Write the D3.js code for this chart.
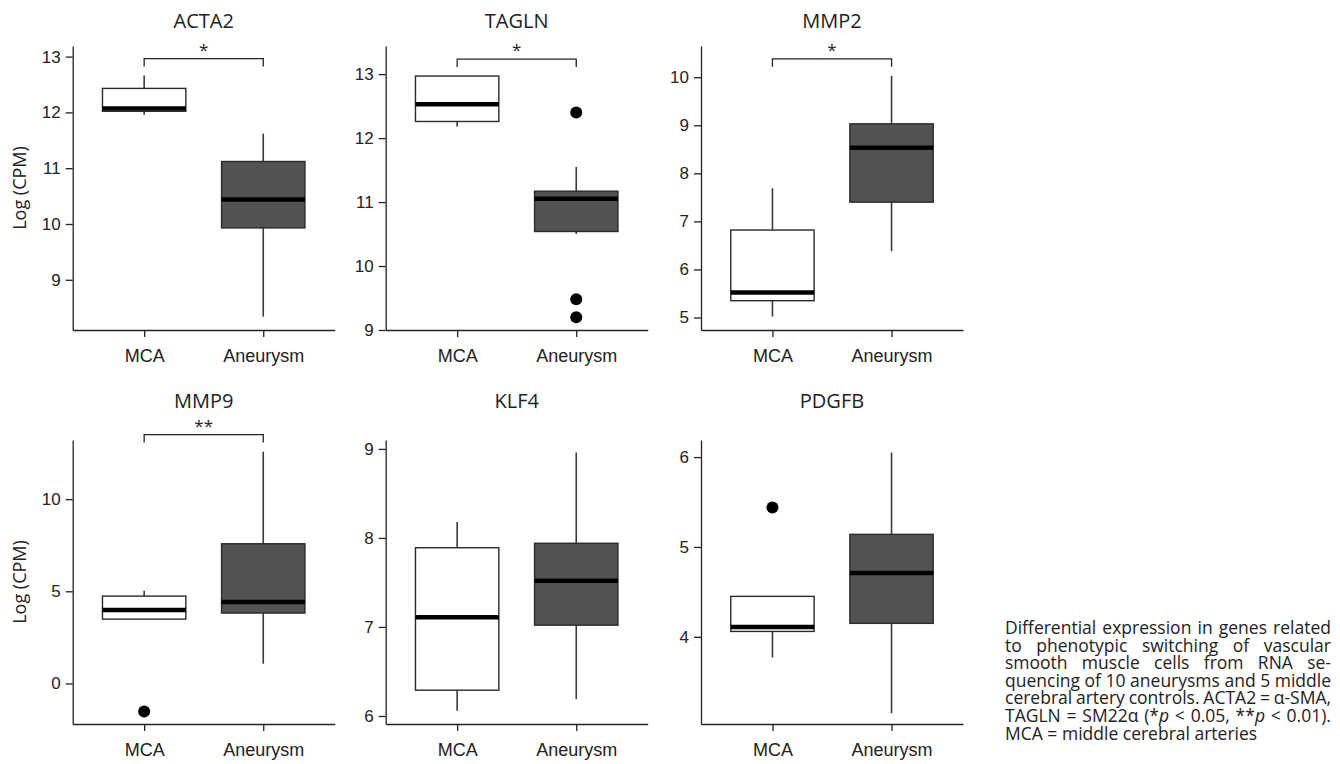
<!DOCTYPE html>
<html>
<head>
<meta charset="utf-8">
<script src="https://cdn.jsdelivr.net/npm/d3@7"></script>
<style>
  body { margin: 0; background: #fff; }
  svg { display: block; font-family: "Open Sans", sans-serif; }
  .tick text { fill: #222; }
</style>
</head>
<body>
<svg id="chart" width="1340" height="764"></svg>
<script>
// Gene panels, left to right, top to bottom
const genes = ['ACTA2', 'TAGLN', 'MMP2', 'MMP9', 'KLF4', 'PDGFB'];
const groups = ['MCA', 'Aneurysm'];

// y axis limits and ticks per panel
const yLimits = [[8.10, 13.19], [9.0, 13.44], [4.74, 10.65], [-2.2, 13.21], [5.91, 9.10], [3.03, 6.19]];
const yTicks = [[9, 10, 11, 12, 13], [9, 10, 11, 12, 13], [5, 6, 7, 8, 9, 10], [0, 5, 10], [6, 7, 8, 9], [4, 5, 6]];

// box stats: [lower whisker, q1, median, q3, upper whisker]
const mcaStats = [
  [11.96, 12.02, 12.07, 12.43, 12.66],
  [12.18, 12.26, 12.53, 12.97, 12.97],
  [5.02, 5.35, 5.52, 6.82, 7.69],
  [3.49, 3.49, 3.98, 4.74, 5.03],
  [6.06, 6.29, 7.11, 7.89, 8.18],
  [3.77, 4.06, 4.11, 4.45, 4.45]
];
const aneurysmStats = [
  [8.34, 9.93, 10.44, 11.12, 11.62],
  [10.50, 10.54, 11.05, 11.17, 11.55],
  [6.38, 7.40, 8.53, 9.03, 10.03],
  [1.07, 3.82, 4.42, 7.58, 12.58],
  [6.19, 7.02, 7.52, 7.94, 8.96],
  [3.15, 4.15, 4.71, 5.14, 6.05]
];
const mcaOutliers = [[], [], [], [-1.52], [], [5.44]];
const aneurysmOutliers = [[], [12.40, 9.48, 9.20], [], [], [], []];
const significance = ['*', '*', '*', '**', '', ''];

const captionLines = [
  [['Differential expression in genes related']],
  [['to phenotypic switching of vascular']],
  [['smooth muscle cells from RNA se-']],
  [['quencing of 10 aneurysms and 5 middle']],
  [['cerebral artery controls. ACTA2 = \u03b1-SMA,']],
  [['TAGLN = SM22\u03b1 (*'], ['p', true], [' < 0.05, **'], ['p', true], [' < 0.01).']],
  [['MCA = middle cerebral arteries']]
];

const svg = d3.select('#chart');
const colX = [72.7, 385.7, 701];
const rowTop = [46, 440];
const titleY = [28.3, 408];
const plotW = 262;
const plotH = 284;
const fills = ['#ffffff', '#535353'];
const ink = '#222';

genes.forEach((gene, i) => {
  const col = i % 3, row = Math.floor(i / 3);
  const g = svg.append('g').attr('transform', `translate(${colX[col]},${rowTop[row]})`);

  const x = d3.scalePoint().domain(groups).range([0, plotW]).padding(0.6);
  const y = d3.scaleLinear().domain(yLimits[i]).range([plotH, 0]);
  const boxW = x.step() * 0.7;

  const yAxis = g.append('g')
    .call(d3.axisLeft(y).tickValues(yTicks[i]).tickFormat(d3.format('d')).tickSize(7).tickPadding(5).tickSizeOuter(0));
  yAxis.selectAll('text').style('font-size', '17px');

  const xAxis = g.append('g').attr('transform', `translate(0,${plotH})`)
    .call(d3.axisBottom(x).tickSize(7).tickPadding(12).tickSizeOuter(0));
  xAxis.selectAll('text').style('font-size', '18px');

  [yAxis, xAxis].forEach(a => {
    a.select('.domain').attr('stroke', ink).attr('stroke-width', 1.3);
    a.selectAll('.tick line').attr('stroke', ink).attr('stroke-width', 1.3);
  });

  const boxes = [
    { group: 'MCA', stats: mcaStats[i], out: mcaOutliers[i], fill: fills[0] },
    { group: 'Aneurysm', stats: aneurysmStats[i], out: aneurysmOutliers[i], fill: fills[1] }
  ];

  boxes.forEach(b => {
    const cx = x(b.group);
    const [lo, q1, med, q3, hi] = b.stats;
    g.append('line').attr('x1', cx).attr('x2', cx).attr('y1', y(lo)).attr('y2', y(q1))
      .attr('stroke', '#3a3a3a').attr('stroke-width', 1.6);
    g.append('line').attr('x1', cx).attr('x2', cx).attr('y1', y(q3)).attr('y2', y(hi))
      .attr('stroke', '#3a3a3a').attr('stroke-width', 1.6);
    g.append('rect')
      .attr('x', cx - boxW / 2).attr('width', boxW)
      .attr('y', y(q3)).attr('height', y(q1) - y(q3))
      .attr('fill', b.fill).attr('stroke', '#2a2a2a').attr('stroke-width', 1.4);
    g.append('line').attr('x1', cx - boxW / 2).attr('x2', cx + boxW / 2)
      .attr('y1', y(med)).attr('y2', y(med))
      .attr('stroke', '#000').attr('stroke-width', 4.5);
    g.selectAll(null).data(b.out).enter().append('circle')
      .attr('cx', cx).attr('cy', d => y(d)).attr('r', 6).attr('fill', '#000');
  });

  if (significance[i]) {
    const top = Math.max(mcaStats[i][4], aneurysmStats[i][4]);
    const by = y(top) - 17;
    g.append('path')
      .attr('d', `M${x('MCA')},${by + 8}V${by}H${x('Aneurysm')}V${by + 8}`)
      .attr('fill', 'none').attr('stroke', ink).attr('stroke-width', 1.3);
    g.append('text').attr('x', (x('MCA') + x('Aneurysm')) / 2).attr('y', by - 3)
      .attr('text-anchor', 'middle').style('font-size', '17px').attr('fill', ink)
      .text(significance[i]);
  }

  svg.append('text')
    .attr('x', colX[col] + plotW / 2).attr('y', titleY[row])
    .attr('text-anchor', 'middle').style('font-size', '20px').attr('fill', ink)
    .text(gene);

  if (col === 0) {
    svg.append('text')
      .attr('transform', `translate(26,${rowTop[row] + plotH / 2}) rotate(-90)`)
      .attr('text-anchor', 'middle').style('font-size', '18px').attr('fill', ink)
      .text('Log (CPM)');
  }
});

// justified caption: one text block, one tspan group per line
const capX = 1005, capW = 326, capY0 = 634, capLH = 17.6;
const caption = svg.append('text').style('font-size', '17.5px').attr('fill', ink);
captionLines.forEach((parts, li) => {
  const line = caption.append('tspan').attr('x', capX).attr('y', capY0 + li * capLH);
  parts.forEach(([s, it]) => {
    line.append('tspan').style('font-style', it ? 'italic' : 'normal').text(s);
  });
  if (li === captionLines.length - 1) return;
  const natural = line.node().getComputedTextLength();
  const spaces = parts.map(p => p[0]).join('').split(' ').length - 1;
  const extra = capW - natural;
  if (extra >= 0 || extra / spaces > -2) {
    line.style('word-spacing', `${extra / spaces}px`);
  } else {
    line.style('word-spacing', '-2px');
    const n2 = line.node().getComputedTextLength();
    const chars = parts.map(p => p[0]).join('').length - 1;
    line.style('letter-spacing', `${(capW - n2) / chars}px`);
  }
});
</script>
</body>
</html>
